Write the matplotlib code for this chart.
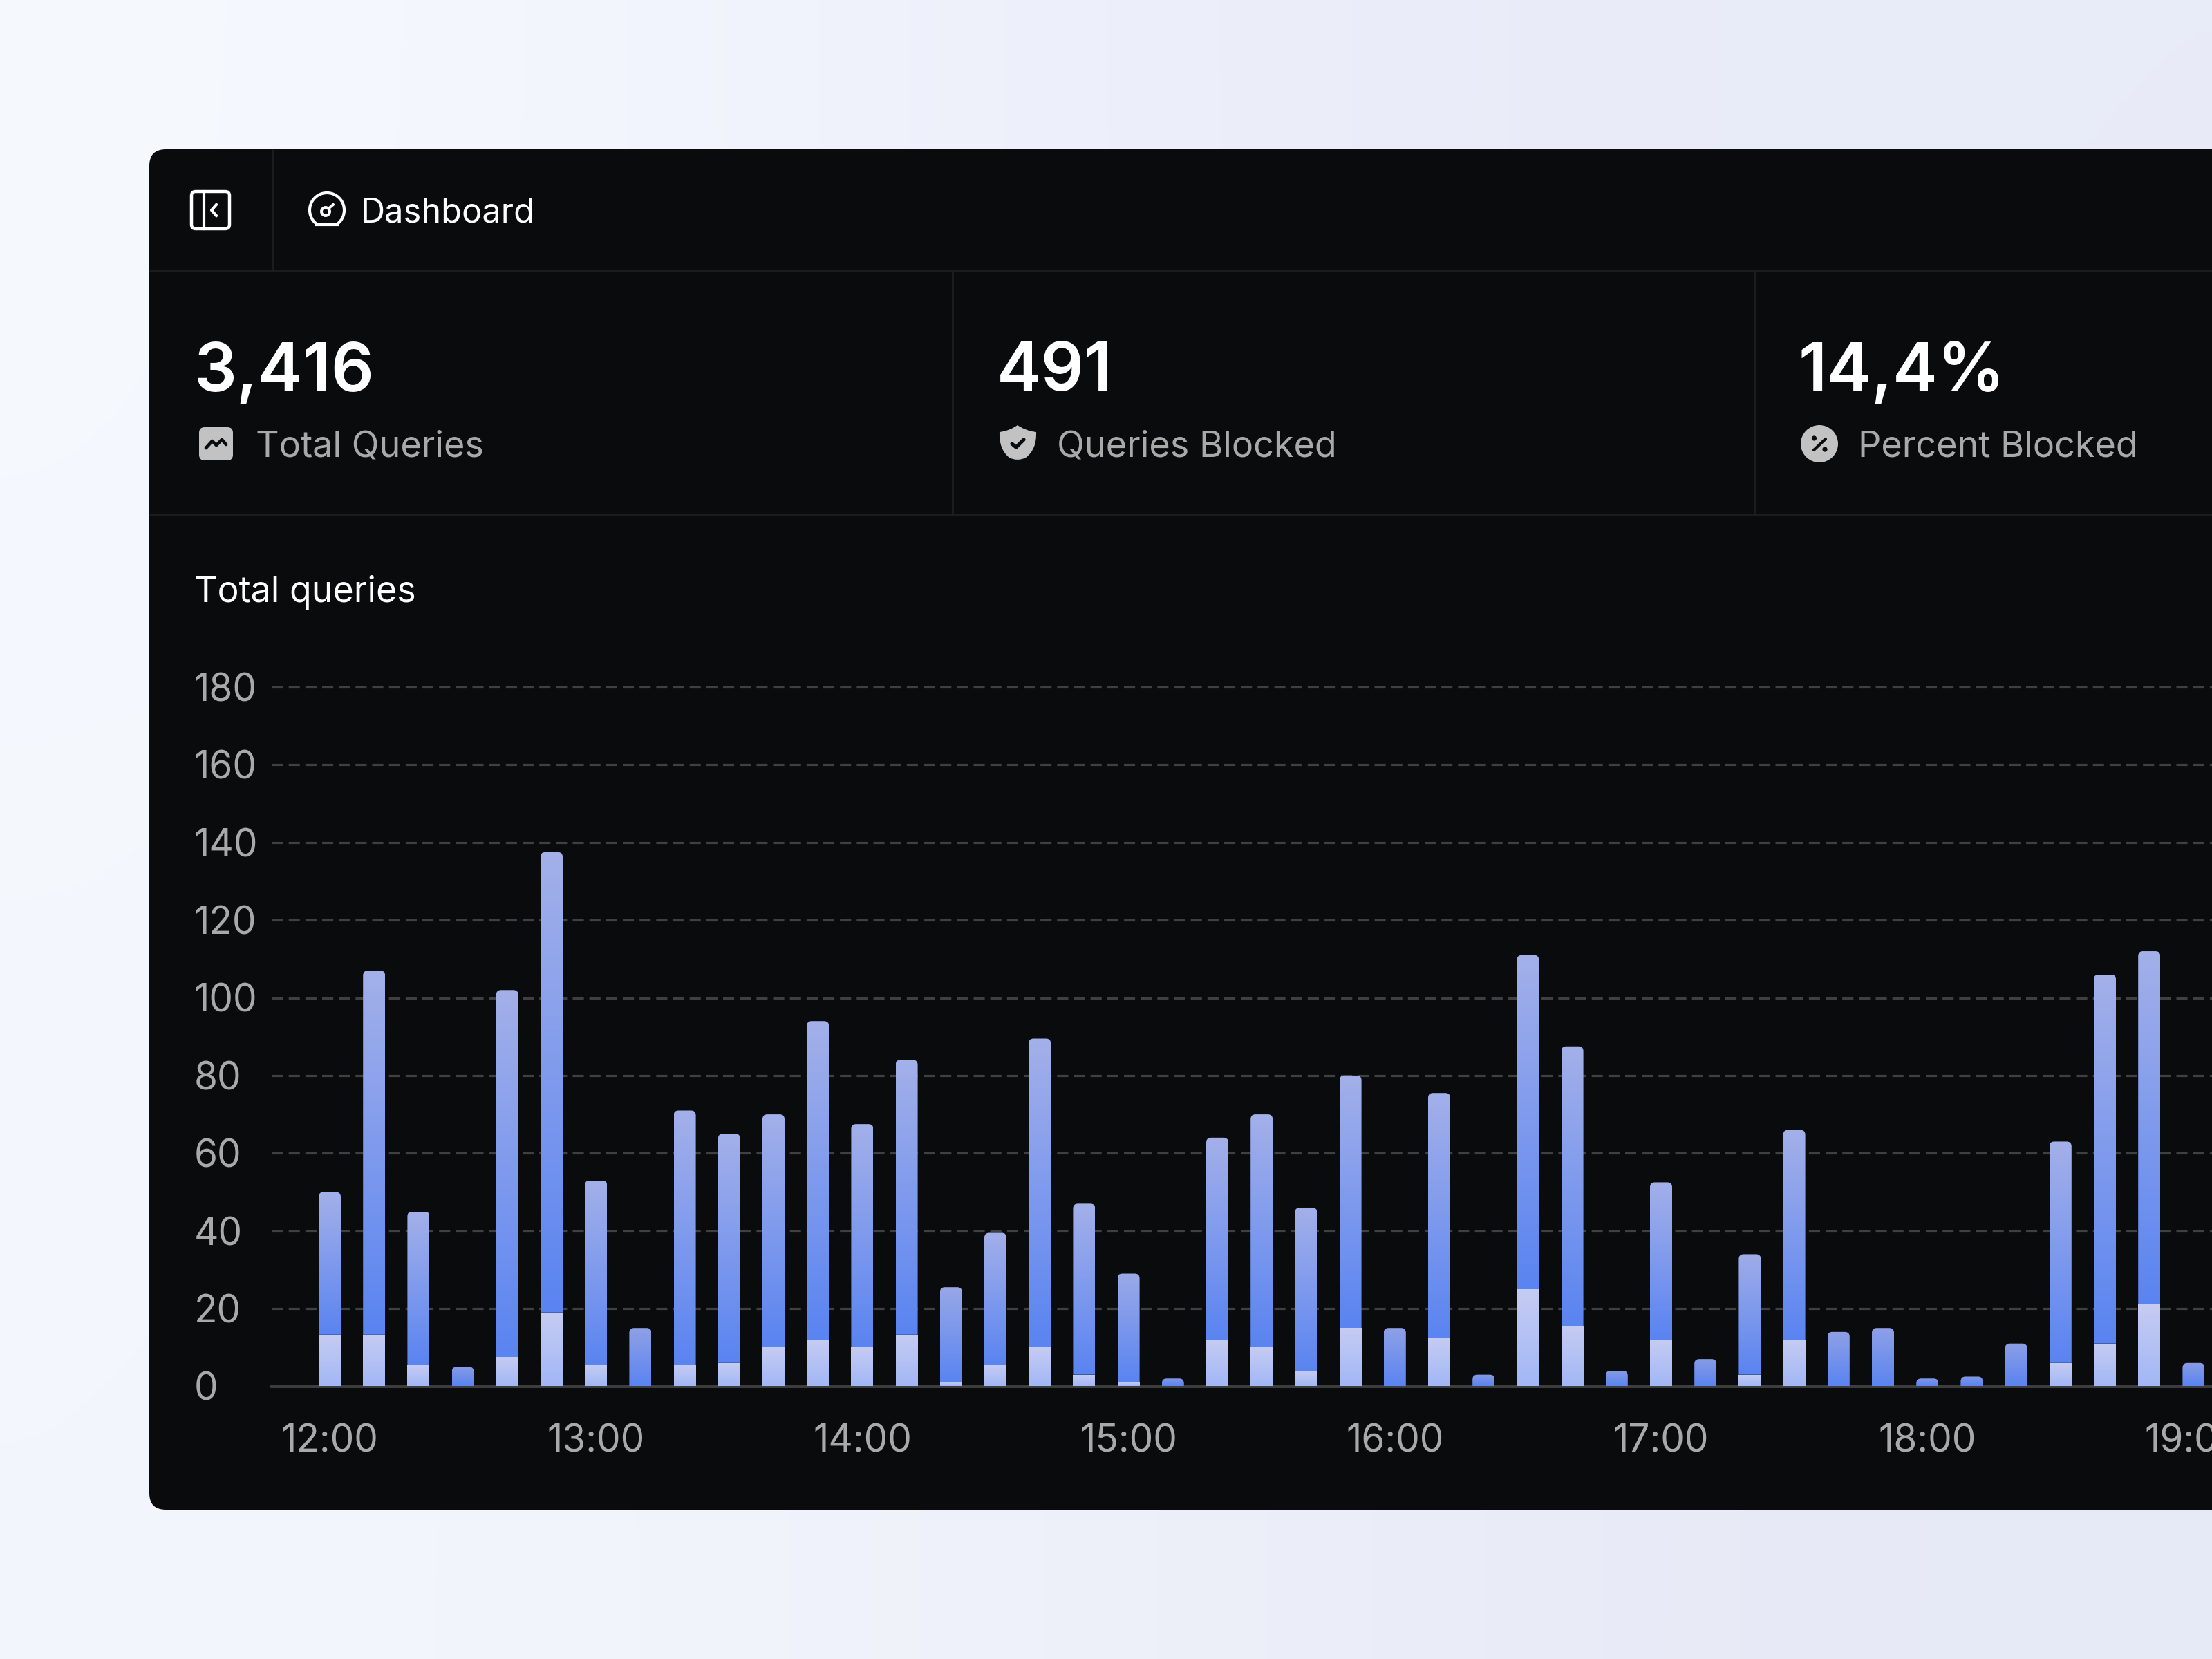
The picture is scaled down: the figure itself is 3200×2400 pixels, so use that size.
import numpy as np
import matplotlib
matplotlib.use('Agg')
import matplotlib.pyplot as plt
from matplotlib.patches import Circle, FancyBboxPatch, Arc, PathPatch
from matplotlib.path import Path
from matplotlib.colors import LinearSegmentedColormap

plt.rcParams['font.family'] = ['Inter', 'DejaVu Sans']
plt.rcParams['lines.scale_dashes'] = False

# queries per 10 minute slot
total = [50, 107, 45, 5, 102, 137.5, 53, 15, 71, 65, 70, 94, 67.5, 84, 25.5, 39.5, 89.5, 47, 29, 2, 64, 70,
         46, 80, 15, 75.5, 3, 111, 87.5, 4, 52.5, 7, 34, 66, 14, 15, 2, 2.5, 11, 63, 106, 112, 6]
blocked = [13.3, 13.3, 5.5, 0, 7.5, 19, 5.5, 0, 5.5, 6, 10, 12, 10, 13.3, 1, 5.5, 10, 3, 1, 0, 12, 10,
           4, 15, 0, 12.5, 0, 25, 15.5, 0, 12, 0, 3, 12, 0, 0, 0, 0, 0, 6, 11, 21, 0]
y_ticks = [0, 20, 40, 60, 80, 100, 120, 140, 160, 180]
hour_labels = ['12:00', '13:00', '14:00', '15:00', '16:00', '17:00', '18:00', '19:00']
slots_per_hour = 6

cards = [('3,416', 'Total Queries', 281, 370),
         ('491', 'Queries Blocked', 1442, 1529),
         ('14,4%', 'Percent Blocked', 2601, 2688)]

W, H = 3200, 2400
PANEL = '#0a0b0c'
LINE = '#1c1c1d'
GREY = '#a9a9a9'
ICON = '#c2c2c2'

fig = plt.figure(figsize=(16, 12), dpi=200)

# page background and panel, in pixel coords
bg = fig.add_axes([0, 0, 1, 1])
bg.set_xlim(0, W)
bg.set_ylim(H, 0)
bg.axis('off')
bg_img = np.array([[[246, 249, 254], [236, 239, 250], [232, 235, 248]],
                   [[243, 246, 252], [238, 241, 249], [230, 233, 246]]], dtype=float) / 255
bg.imshow(bg_img, extent=[0, W, H, 0], aspect='auto', interpolation='bicubic', zorder=0)
bg.set_xlim(0, W)
bg.set_ylim(H, 0)

bg.add_patch(FancyBboxPatch((216, 216), W + 200, 1968, boxstyle='round,pad=0,rounding_size=24',
                            fc=PANEL, ec='none', zorder=1))

# separators
for x0, y0, x1, y1 in [(216, 391, W, 391), (216, 745, W, 745), (394, 216, 394, 391),
                       (1378, 391, 1378, 745), (2539, 391, 2539, 745)]:
    bg.plot([x0, x1], [y0, y1], color=LINE, lw=1.1, zorder=2, solid_capstyle='butt')

# sidebar icon
bg.add_patch(FancyBboxPatch((277, 277), 55, 54, boxstyle='round,pad=0,rounding_size=6',
                            fc='none', ec='white', lw=1.6, zorder=3))
bg.plot([295, 295], [277, 331], color='white', lw=1.5, zorder=3)
bg.plot([313, 306, 313], [296, 304, 312], color='white', lw=1.5, zorder=3)

# gauge icon
bg.add_patch(Arc((473, 304), 50, 50, theta1=125, theta2=55, color='white', lw=1.5, zorder=3))
bg.plot([458, 488], [325, 325], color='white', lw=1.5, zorder=3)
bg.add_patch(Circle((471, 306), 6, fc='none', ec='white', lw=1.4, zorder=3))
bg.plot([475, 482], [302, 296], color='white', lw=1.4, zorder=3)

# total queries icon
bg.add_patch(FancyBboxPatch((288, 618), 49, 48, boxstyle='round,pad=0,rounding_size=8',
                            fc=ICON, ec='none', zorder=3))
bg.plot([298, 307, 313, 321, 327], [648, 638, 644, 636, 643], color=PANEL, lw=1.7, zorder=4,
        solid_capstyle='round', solid_joinstyle='round')

# shield icon
shield = Path([(1472, 615), (1483, 623), (1499, 625), (1499, 625), (1500, 650), (1484, 662), (1472, 668),
               (1460, 662), (1445, 650), (1446, 625), (1446, 625), (1461, 623), (1472, 615)],
              [Path.MOVETO, Path.CURVE3, Path.CURVE3, Path.LINETO, Path.CURVE3, Path.CURVE3, Path.CURVE3,
               Path.CURVE3, Path.CURVE3, Path.CURVE3, Path.LINETO, Path.CURVE3, Path.CURVE3])
bg.add_patch(PathPatch(shield, fc=ICON, ec='none', zorder=3))
bg.plot([1464, 1470, 1481], [642, 647, 636], color=PANEL, lw=1.9, zorder=4,
        solid_capstyle='round', solid_joinstyle='round')

# percent icon
bg.add_patch(Circle((2632, 642), 27, fc=ICON, ec='none', zorder=3))
bg.plot([2624, 2641], [651, 635], color=PANEL, lw=1.5, zorder=4, solid_capstyle='round')
bg.add_patch(Circle((2624.5, 634), 3.6, fc=PANEL, ec='none', zorder=4))
bg.add_patch(Circle((2640, 650), 3.6, fc=PANEL, ec='none', zorder=4))

# header texts
bg.text(522, 308, 'Dashboard', color='white', fontsize=17.6, va='center', ha='left', zorder=5)
for value, label, vx, lx in cards:
    bg.text(vx, 530, value, color='white', fontsize=35, fontweight='semibold', va='center_baseline', ha='left', zorder=5)
    bg.text(lx, 647, label, color=GREY, fontsize=18.8, va='center', ha='left', zorder=5)
bg.text(281, 857, 'Total queries', color='white', fontsize=18.7, va='center', ha='left', zorder=5)

# chart axes, laid out so that the y scale and bar pitch land as in the picture
base_y, top_y = 2005.5, 2005.5 - 182 * 5.62
ax_l = 393
pitch = 64.2
ax = fig.add_axes([ax_l / W, 1 - base_y / H, (W - ax_l) / W, (base_y - top_y) / H])
ax.patch.set_alpha(0)
x_pos = np.arange(len(total))
ax.set_xlim((ax_l - 477) / pitch, (W - 477) / pitch)
ax.set_ylim(0, 182)
for s in ['top', 'right', 'left']:
    ax.spines[s].set_visible(False)
ax.spines['bottom'].set_color('#3e3e3e')
ax.spines['bottom'].set_linewidth(1.4)
ax.set_axisbelow(True)
ax.grid(axis='y', color='#404040', lw=1.15, linestyle=(0, (5.8, 2.9)), dash_capstyle='butt')
ax.set_yticks(y_ticks)
ax.set_xticks(x_pos[::slots_per_hour])
ax.set_xticklabels(hour_labels)
ax.tick_params(axis='both', length=0, labelsize=19.8, labelcolor=GREY)
ax.tick_params(axis='y', pad=40.5)
ax.tick_params(axis='x', pad=19.5)
for t in ax.get_yticklabels():
    t.set_horizontalalignment('left')
    t.set_verticalalignment('center_baseline')
    t.set_y(-0.3)
ax.yaxis.get_gridlines()[0].set_visible(False)

bar_w = 32 / pitch
rx, ry = 7 / pitch, 7 / 5.62
upper_bars = ax.bar(x_pos, np.array(total) - np.array(blocked), bar_w, bottom=blocked, color='none')
lower_bars = ax.bar(x_pos, blocked, bar_w, color='none')

top_full = np.array([163, 176, 233]) / 255
top_small = np.array([132, 152, 228]) / 255
bottom_blue = '#5a84f1'


def fill_bar(rect, col_top, col_bottom, rounded):
    x0, y0 = rect.get_x(), rect.get_y()
    w, h = rect.get_width(), rect.get_height()
    if h <= 0:
        return
    cmap = LinearSegmentedColormap.from_list('b', [col_top, col_bottom])
    img = ax.imshow(np.linspace(0, 1, 128).reshape(-1, 1), cmap=cmap, aspect='auto', zorder=3,
                    extent=[x0, x0 + w, y0, y0 + h], origin='upper', interpolation='bilinear')
    r_y = min(ry, h)
    x1, y1 = x0 + w, y0 + h
    if rounded:
        verts = [(x0, y0), (x0, y1 - r_y), (x0, y1), (x0 + rx, y1), (x1 - rx, y1), (x1, y1), (x1, y1 - r_y),
                 (x1, y0), (x0, y0)]
        codes = [Path.MOVETO, Path.LINETO, Path.CURVE3, Path.CURVE3, Path.LINETO, Path.CURVE3, Path.CURVE3,
                 Path.LINETO, Path.CLOSEPOLY]
    else:
        verts = [(x0, y0), (x0, y1), (x1, y1), (x1, y0), (x0, y0)]
        codes = [Path.MOVETO, Path.LINETO, Path.LINETO, Path.LINETO, Path.CLOSEPOLY]
    img.set_clip_path(PathPatch(Path(verts, codes), transform=ax.transData))


for rect, rect_low, tot in zip(upper_bars, lower_bars, total):
    frac = min(tot / 40, 1)
    fill_bar(rect, top_small + (top_full - top_small) * frac, bottom_blue, True)
    fill_bar(rect_low, '#c6ccf2', '#a2b7f6', False)

ax.set_xlim((ax_l - 477) / pitch, (W - 477) / pitch)
ax.set_ylim(0, 182)

fig.savefig('out.png', dpi=200)
